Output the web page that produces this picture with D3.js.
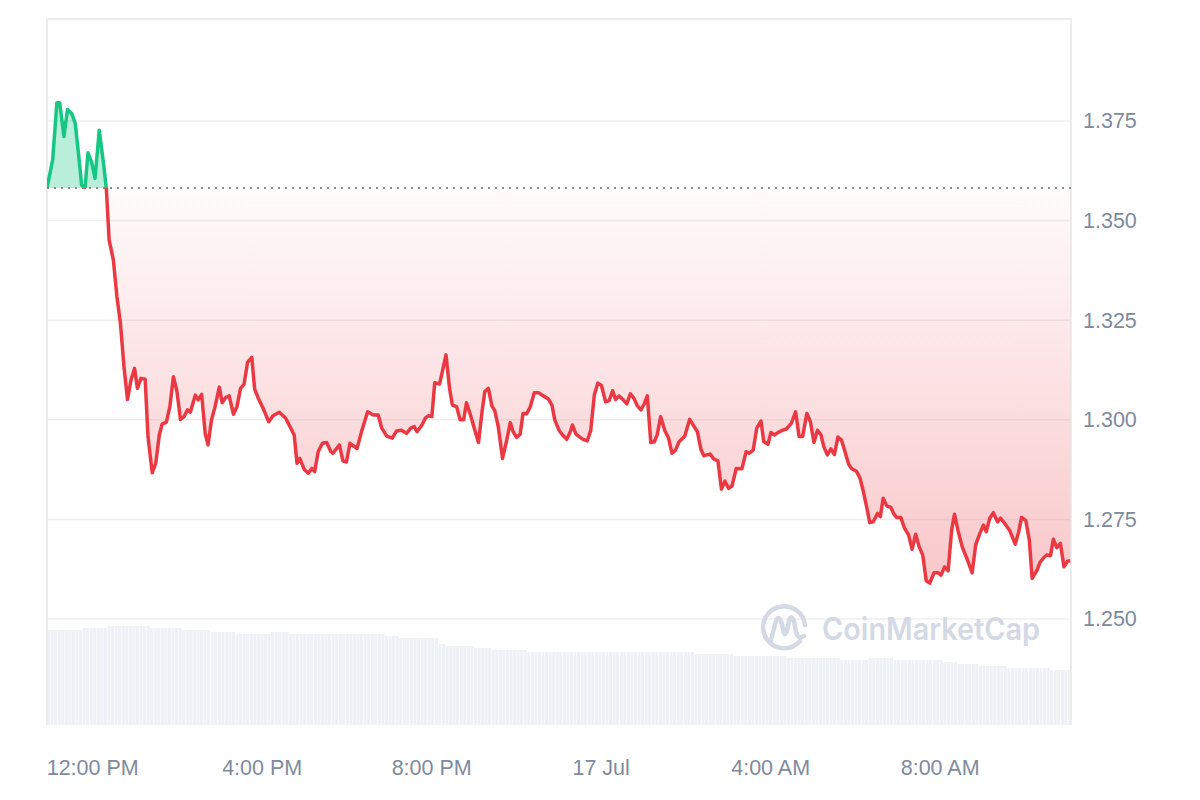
<!DOCTYPE html>
<html>
<head>
<meta charset="utf-8">
<script src="https://cdn.jsdelivr.net/npm/d3@7"></script>
<style>
  body { margin: 0; background: #fff; }
  #chart text { font-family: "Liberation Sans", Arial, sans-serif; }
</style>
</head>
<body>
<div id="chart"></div>
<script>
// price: minutes after 16 Jul 10:56, and the price at that moment
var priceMinutes = [0,8,14,18,24,29,35,40,46,49,54,58,63,68,74,80,84,
  88,94,99,104,109,114,119,124,128,133,139,143,149,154,159,163,169,174,179,184,189,194,199,203,210,214,219,224,228,233,238,244,248,253,258,264,269,274,279,284,290,294,299,306,314,320,329,338,344,350,354,358,364,370,375,379,384,390,396,402,405,414,419,424,429,439,446,454,462,469,474,481,489,495,502,509,515,520,524,531,536,540,545,549,556,565,570,574,580,585,590,594,599,605,611,616,620,625,630,634,639,645,651,656,660,665,670,674,679,684,690,696,703,710,715,719,725,730,736,741,744,749,755,759,765,770,775,780,785,791,796,801,805,810,816,821,826,831,836,841,846,850,855,860,864,869,875,880,885,890,895,903,910,916,921,926,930,939,944,950,955,960,965,970,976,984,990,994,1000,1005,1011,1015,1021,1025,1030,1036,1042,1047,1054,1060,1065,1070,1076,1081,1086,1091,1096,1100,1105,1110,1115,1120,1125,1130,1135,1139,1146,1151,1156,1161,1165,1170,1176,1180,1184,1189,1195,1199,1203,1209,1214,1220,1225,1230,1235,1240,1245,1250,1256,1262,1266,1271,1276,1281,1285,1290,1296,1303,1310,1315,1321,1326,1330,1335,1340,1346,1350,1357,1363,1371,1376,1380,1386,1391,1395,1402,1406,1412,1416,1421,1425,1430,1435,1440,1445,1449];

var prices = [1.3582,1.3652,1.3796,1.3796,1.3711,1.3779,1.3769,1.3744,1.3644,1.3589,1.3584,1.3670,1.3648,1.3606,1.3727,1.3644,1.3581,
  1.3451,1.3401,1.3309,1.3242,1.3133,1.3051,1.3100,1.3129,1.3079,1.3104,1.3102,1.2958,1.2867,1.2891,1.2962,1.2989,1.2994,1.3033,1.3108,1.3071,1.3001,1.3008,1.3025,1.3019,1.3062,1.3050,1.3064,1.2966,1.2937,1.3000,1.3033,1.3082,1.3043,1.3056,1.3060,1.3014,1.3033,1.3079,1.3089,1.3144,1.3157,1.3077,1.3055,1.3029,1.2995,1.3010,1.3019,1.3004,1.2983,1.2962,1.2891,1.2903,1.2876,1.2866,1.2878,1.2870,1.2920,1.2941,1.2943,1.2920,1.2916,1.2937,1.2897,1.2894,1.2941,1.2928,1.2974,1.3020,1.3012,1.3012,1.2979,1.2959,1.2954,1.2972,1.2974,1.2966,1.2979,1.2983,1.2970,1.2987,1.3005,1.3010,1.3008,1.3093,1.3090,1.3163,1.3079,1.3037,1.3033,1.3000,1.3000,1.3043,1.3016,1.2979,1.2943,1.3020,1.3071,1.3079,1.3035,1.3023,1.2983,1.2903,1.2949,1.2993,1.2970,1.2956,1.2964,1.3016,1.3015,1.3031,1.3068,1.3068,1.3060,1.3052,1.3037,1.3000,1.2974,1.2962,1.2951,1.2970,1.2987,1.2964,1.2956,1.2951,1.2947,1.2974,1.3062,1.3092,1.3086,1.3045,1.3048,1.3073,1.3051,1.3060,1.3050,1.3040,1.3065,1.3054,1.3035,1.3025,1.3041,1.3060,1.2943,1.2945,1.2962,1.3008,1.2972,1.2955,1.2916,1.2924,1.2945,1.2959,1.3001,1.2984,1.2970,1.2926,1.2910,1.2914,1.2902,1.2897,1.2826,1.2846,1.2828,1.2834,1.2878,1.2877,1.2920,1.2916,1.2924,1.2979,1.2997,1.2945,1.2939,1.2968,1.2962,1.2969,1.2974,1.2977,1.2991,1.3020,1.2958,1.2958,1.3016,1.2995,1.2943,1.2974,1.2962,1.2932,1.2912,1.2927,1.2913,1.2957,1.2949,1.2920,1.2889,1.2878,1.2871,1.2855,1.2820,1.2778,1.2742,1.2744,1.2765,1.2757,1.2803,1.2784,1.2780,1.2764,1.2755,1.2755,1.2729,1.2711,1.2675,1.2713,1.2681,1.2661,1.2596,1.2590,1.2616,1.2616,1.2610,1.2631,1.2621,1.2723,1.2763,1.2722,1.2681,1.2650,1.2616,1.2686,1.2715,1.2736,1.2719,1.2753,1.2767,1.2744,1.2753,1.2738,1.2723,1.2688,1.2719,1.2755,1.2747,1.2698,1.2602,1.2623,1.2642,1.2655,1.2661,1.2659,1.2700,1.2679,1.2690,1.2631,1.2645,1.2646];

// 24h volume, one bar per 5 minutes (millions)
var volumes = [
  47.5,47.5,47.5,47.5,47.5,47.5,47.5,47.5,47.5,47.5,
  48.5,48.5,48.5,48.5,48.5,48.5,48.5,
  49.5,49.5,49.5,49.5,49.5,49.5,49.5,49.5,49.5,49.5,49.5,49.5,
  48.5,48.5,48.5,48.5,48.5,48.5,48.5,48.5,48.5,
  47.5,47.5,47.5,47.5,47.5,47.5,47.5,47.5,
  46.5,46.5,46.5,46.5,46.5,46.5,46.5,
  45.5,45.5,45.5,45.5,45.5,45.5,45.5,45.5,45.5,45.5,
  46.5,46.5,46.5,46.5,46.5,
  45.5,45.5,45.5,45.5,45.5,45.5,45.5,45.5,45.5,45.5,45.5,45.5,45.5,45.5,45.5,45.5,45.5,45.5,45.5,45.5,45.5,45.5,45.5,45.5,45.5,45.5,45.5,
  44.5,44.5,44.5,44.5,
  43.5,43.5,43.5,43.5,43.5,43.5,43.5,43.5,43.5,43.5,43.5,
  40.5,40.5,
  39.5,39.5,39.5,39.5,39.5,39.5,39.5,39.5,
  38.5,38.5,38.5,38.5,38.5,
  37.5,37.5,37.5,37.5,37.5,37.5,37.5,37.5,37.5,37.5,
  36.5,36.5,36.5,36.5,36.5,36.5,36.5,36.5,36.5,36.5,36.5,36.5,36.5,36.5,36.5,36.5,36.5,36.5,36.5,36.5,36.5,36.5,36.5,36.5,
  36.5,36.5,36.5,36.5,36.5,36.5,36.5,36.5,36.5,36.5,36.5,36.5,36.5,36.5,36.5,36.5,36.5,36.5,36.5,36.5,36.5,36.5,36.5,
  35.5,35.5,35.5,35.5,35.5,35.5,35.5,35.5,35.5,35.5,35.5,
  34.5,34.5,34.5,34.5,34.5,34.5,34.5,34.5,34.5,34.5,34.5,34.5,34.5,34.5,34.5,
  33.5,33.5,33.5,33.5,33.5,33.5,33.5,33.5,33.5,33.5,33.5,33.5,33.5,33.5,33.5,
  32.5,32.5,32.5,32.5,32.5,32.5,32.5,32.5,
  33.5,33.5,33.5,33.5,33.5,33.5,33.5,
  32.5,32.5,32.5,32.5,32.5,32.5,32.5,32.5,32.5,32.5,32.5,32.5,32.5,32.5,
  31.5,31.5,31.5,31.5,
  30.5,30.5,30.5,30.5,30.5,30.5,
  29.5,29.5,29.5,29.5,29.5,29.5,29.5,29.5,
  28.5,28.5,28.5,28.5,28.5,28.5,28.5,28.5,28.5,28.5,28.5,28.5,
  27.5,27.5,27.5,27.5,27.5,27.5
];

var yTicks = [1.25, 1.275, 1.3, 1.325, 1.35, 1.375];
var xTickLabels = ["12:00 PM", "4:00 PM", "8:00 PM", "17 Jul", "4:00 AM", "8:00 AM"];
var xTickTimes = [new Date(2024, 6, 16, 12), new Date(2024, 6, 16, 16), new Date(2024, 6, 16, 20),
                  new Date(2024, 6, 17, 0), new Date(2024, 6, 17, 4), new Date(2024, 6, 17, 8)];
var startTime = new Date(2024, 6, 16, 10, 56);
var endTime = new Date(2024, 6, 17, 11, 6);

function init() {
    var w = 1200;
    var h = 800;
    var left = 47, right = 1071, top = 19, bottom = 725;

    var red = "#ea3943", green = "#16c784";

    var data = d3.range(Math.min(priceMinutes.length, prices.length)).map(function(i) {
        return { t: d3.timeMinute.offset(startTime, priceMinutes[i]), v: prices[i] };
    });
    var openPrice = prices[0];

    var x = d3.scaleTime()
              .domain([startTime, endTime])
              .range([left, right]);

    var y = d3.scaleLinear()
              .domain([1.2234, 1.4006])
              .range([bottom, top]);

    var vy = d3.scaleLinear()
               .domain([0, 49.5])
               .range([0, 99]);

    var xb = d3.scaleBand()
               .domain(d3.range(volumes.length))
               .range([left, right])
               .paddingInner(0.12);

    var svg = d3.select("#chart")
                .append("svg")
                .attr("width", w)
                .attr("height", h);

    var defs = svg.append("defs");
    var baseY = y(openPrice);

    defs.append("clipPath").attr("id", "above")
        .append("rect")
        .attr("x", left).attr("y", top)
        .attr("width", right - left).attr("height", baseY - top);
    defs.append("clipPath").attr("id", "below")
        .append("rect")
        .attr("x", left).attr("y", baseY)
        .attr("width", right - left).attr("height", bottom - baseY);

    var grad = defs.append("linearGradient")
                   .attr("id", "redFill")
                   .attr("gradientUnits", "userSpaceOnUse")
                   .attr("x1", 0).attr("x2", 0)
                   .attr("y1", baseY).attr("y2", y(d3.min(prices)));
    grad.append("stop").attr("offset", "0%").attr("stop-color", red).attr("stop-opacity", 0.02);
    grad.append("stop").attr("offset", "100%").attr("stop-color", red).attr("stop-opacity", 0.28);

    // gridlines
    svg.append("g")
       .selectAll("line")
       .data(yTicks)
       .enter()
       .append("line")
       .attr("x1", left)
       .attr("x2", right)
       .attr("y1", function(d) { return y(d); })
       .attr("y2", function(d) { return y(d); })
       .attr("stroke", "#efefef")
       .attr("stroke-width", 1.5);

    // volume bars
    svg.append("g")
       .selectAll("rect")
       .data(volumes)
       .enter()
       .append("rect")
       .attr("x", function(d, i) { return xb(i); })
       .attr("width", xb.bandwidth())
       .attr("y", function(d) { return bottom - vy(d); })
       .attr("height", function(d) { return vy(d); })
       .attr("fill", "#eef1f5");

    // frame
    svg.append("path")
       .attr("d", "M" + left + "," + bottom + "V" + top + "H" + right + "V" + bottom)
       .attr("fill", "none")
       .attr("stroke", "#ececec")
       .attr("stroke-width", 2);

    // watermark
    var wm = svg.append("g").attr("fill", "none").attr("stroke", "#d3d9e5")
                .attr("stroke-width", 4.5).attr("stroke-linecap", "round");
    wm.append("path")
      .attr("d", "M800,641 A21,21 0 1 1 805,625");
    wm.append("path")
      .attr("d", "M771,640 L776,621 Q778,615 781,621 L784,633 Q786,638 789,621 Q791,614 794,621 L796,632 Q798,640 804,636");
    svg.append("text")
       .attr("x", 822)
       .attr("y", 640)
       .attr("textLength", 218)
       .attr("lengthAdjust", "spacingAndGlyphs")
       .style("font-family", "Inter, 'Noto Sans', sans-serif")
       .style("font-size", "31px")
       .style("font-weight", 600)
       .attr("fill", "#d3d9e5")
       .text("CoinMarketCap");

    // areas
    var area = d3.area()
                 .x(function(d) { return x(d.t); })
                 .y0(baseY)
                 .y1(function(d) { return y(d.v); });
    var line = d3.line()
                 .x(function(d) { return x(d.t); })
                 .y(function(d) { return y(d.v); });

    svg.append("path")
       .datum(data)
       .attr("d", area)
       .attr("clip-path", "url(#above)")
       .attr("fill", green)
       .attr("fill-opacity", 0.3);
    svg.append("path")
       .datum(data)
       .attr("d", area)
       .attr("clip-path", "url(#below)")
       .attr("fill", "url(#redFill)");

    // opening price reference
    svg.append("line")
       .attr("x1", left)
       .attr("x2", right)
       .attr("y1", baseY)
       .attr("y2", baseY)
       .attr("stroke", "#8a8a8a")
       .attr("stroke-width", 2)
       .attr("stroke-dasharray", "2,5");

    svg.append("path")
       .datum(data)
       .attr("d", line)
       .attr("clip-path", "url(#above)")
       .attr("fill", "none")
       .attr("stroke", green)
       .attr("stroke-width", 3.5)
       .attr("stroke-linejoin", "round");
    svg.append("path")
       .datum(data)
       .attr("d", line)
       .attr("clip-path", "url(#below)")
       .attr("fill", "none")
       .attr("stroke", red)
       .attr("stroke-width", 3.5)
       .attr("stroke-linejoin", "round");

    // axes
    var yAxis = d3.axisRight(y)
                  .tickValues(yTicks)
                  .tickFormat(d3.format(".3f"))
                  .tickSize(0)
                  .tickPadding(12);
    var gy = svg.append("g")
                .attr("transform", "translate(" + right + ",0)")
                .call(yAxis);
    gy.select(".domain").remove();

    var xAxis = d3.axisBottom(x)
                  .tickValues(xTickTimes)
                  .tickFormat(function(d, i) { return xTickLabels[i]; })
                  .tickSize(0)
                  .tickPadding(35);
    var gx = svg.append("g")
                .attr("transform", "translate(0," + bottom + ")")
                .call(xAxis);
    gx.select(".domain").remove();

    svg.selectAll(".tick text")
       .attr("fill", "#808a9d")
       .style("font-size", "21.5px")
       .style("font-family", "'Liberation Sans', Arial, sans-serif");
}

window.onload = init;
</script>
</body>
</html>
